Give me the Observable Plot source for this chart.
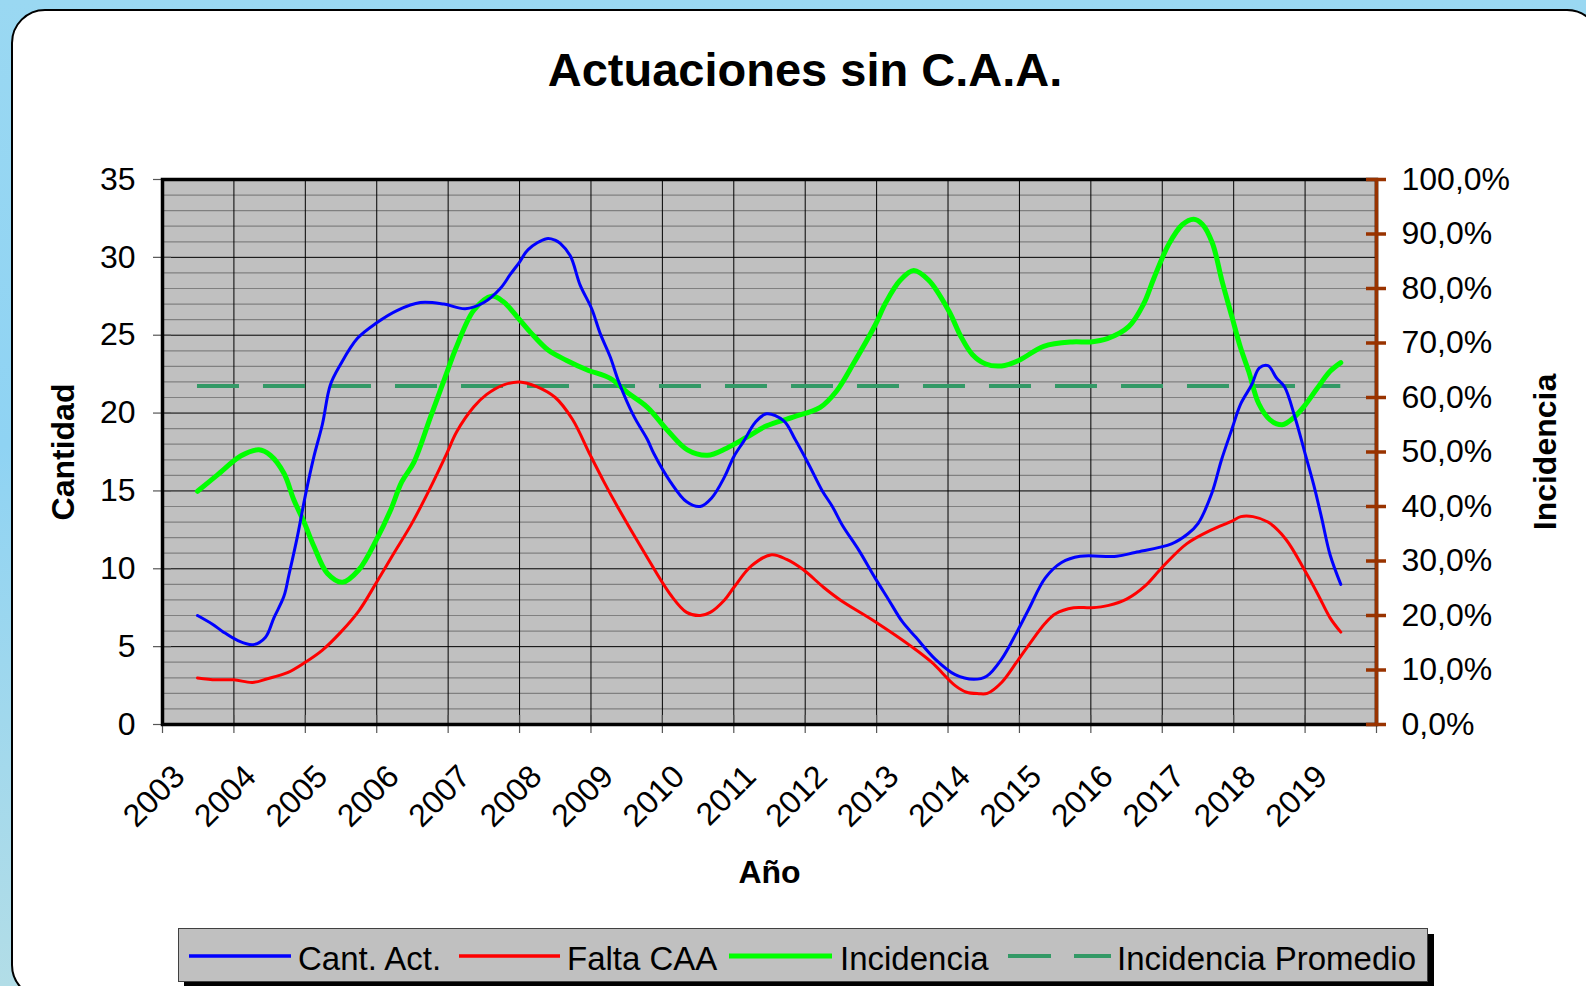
<!DOCTYPE html>
<html><head><meta charset="utf-8">
<script src="https://cdn.jsdelivr.net/npm/d3@7"></script>
<script src="https://cdn.jsdelivr.net/npm/@observablehq/plot@0.6"></script>
<style>
html,body{margin:0;padding:0;}
body{width:1586px;height:986px;overflow:hidden;position:relative;background:linear-gradient(180deg,#9ad8f2 0%,#8fd3f3 45%,#b2dde7 100%);font-family:"Liberation Sans",Arial,sans-serif;}
#panel{position:absolute;left:11px;top:9px;width:1590px;height:990px;background:#fff;border:2px solid #000;border-radius:34px;box-sizing:border-box;}
#title{position:absolute;left:805px;top:46px;transform:translateX(-50%);font-weight:bold;font-size:47px;line-height:47px;white-space:nowrap;color:#000;}
#chart{position:absolute;left:0;top:110px;}
#legend{position:absolute;left:178px;top:928px;width:1250px;height:54px;background:#c0c0c0;border:1px solid #404040;box-sizing:border-box;box-shadow:6px 6px 0 #000;}
#legend .s{position:absolute;}
#legend .t{position:absolute;top:4px;font-size:33px;line-height:52px;white-space:nowrap;color:#000;}
</style></head>
<body>
<div id="panel"></div>
<div id="title">Actuaciones sin C.A.A.</div>
<div id="chart"></div>
<div id="legend"></div>
<script>
// ---- data ----
const cantYears = [2003.49,2003.70,2003.84,2004.05,2004.27,2004.44,2004.56,2004.70,2004.77,2004.89,2005.0,2005.12,2005.24,2005.35,2005.49,2005.73,2006.0,2006.29,2006.61,2006.94,2007.24,2007.5,2007.73,2007.87,2008.0,2008.12,2008.38,2008.5,2008.57,2008.71,2008.85,2009.01,2009.13,2009.27,2009.39,2009.6,2009.79,2009.88,2010.11,2010.34,2010.53,2010.69,2010.87,2011.0,2011.14,2011.3,2011.46,2011.7,2011.86,2012.05,2012.24,2012.38,2012.52,2012.75,2012.98,2013.17,2013.36,2013.55,2013.82,2014.1,2014.36,2014.54,2014.75,2014.96,2015.13,2015.36,2015.59,2015.85,2016.36,2016.62,2017.13,2017.36,2017.5,2017.69,2017.83,2017.97,2018.1,2018.25,2018.36,2018.48,2018.6,2018.71,2018.86,2019.0,2019.12,2019.23,2019.35,2019.5];
const cantValues = [7.0,6.44,5.98,5.4,5.13,5.59,6.85,8.23,9.6,12.1,14.7,17.2,19.3,21.8,23.1,24.8,25.8,26.6,27.1,27.0,26.7,27.1,28.0,28.9,29.7,30.5,31.2,31.1,30.9,30.1,28.2,26.7,25.1,23.6,22.0,19.8,18.3,17.4,15.6,14.3,14.0,14.55,15.9,17.2,18.2,19.4,19.95,19.5,18.3,16.7,15.0,14.0,12.8,11.2,9.4,8.0,6.6,5.6,4.2,3.2,2.9,3.1,4.2,5.9,7.4,9.4,10.4,10.8,10.8,11.05,11.6,12.25,12.9,14.8,17.0,18.9,20.6,21.8,22.9,23.05,22.25,21.7,19.7,17.4,15.4,13.3,10.9,9.0];

const faltaYears = [2003.49,2003.75,2004.0,2004.26,2004.47,2004.75,2005.0,2005.24,2005.49,2005.75,2006.0,2006.24,2006.49,2006.75,2006.98,2007.12,2007.36,2007.54,2007.77,2008.0,2008.24,2008.5,2008.74,2008.99,2009.18,2009.37,2009.74,2010.12,2010.34,2010.53,2010.67,2010.87,2011.0,2011.25,2011.53,2011.74,2011.97,2012.26,2012.49,2012.98,2013.49,2013.77,2014.1,2014.26,2014.43,2014.55,2014.75,2014.96,2015.13,2015.36,2015.5,2015.76,2016.01,2016.25,2016.5,2016.76,2017.0,2017.34,2017.69,2017.97,2018.1,2018.27,2018.48,2018.73,2019.0,2019.18,2019.35,2019.5];
const faltaValues = [2.99,2.87,2.87,2.7,2.94,3.33,4.0,4.78,5.9,7.3,9.15,11.0,12.9,15.2,17.4,18.8,20.4,21.2,21.8,22.0,21.7,21.0,19.6,17.3,15.6,14.0,11.1,8.3,7.2,7.0,7.2,8.0,8.8,10.2,10.9,10.6,9.95,8.8,8.0,6.6,5.0,4.0,2.5,2.07,1.98,2.0,2.7,4.0,5.1,6.5,7.1,7.5,7.5,7.65,8.05,8.9,10.1,11.6,12.5,13.05,13.35,13.35,13.0,11.9,9.85,8.35,6.85,5.93];

const incYears = [2003.49,2003.77,2004.1,2004.35,2004.51,2004.7,2004.84,2004.98,2005.12,2005.31,2005.52,2005.75,2006.0,2006.19,2006.35,2006.52,2006.75,2006.98,2007.12,2007.36,2007.61,2007.77,2007.96,2008.15,2008.4,2008.66,2008.94,2009.27,2009.51,2009.79,2010.07,2010.35,2010.63,2010.9,2011.18,2011.46,2011.83,2012.21,2012.44,2012.67,2012.98,2013.12,2013.33,2013.52,2013.73,2014.01,2014.18,2014.34,2014.52,2014.75,2014.99,2015.34,2015.74,2016.0,2016.23,2016.53,2016.74,2016.88,2017.09,2017.28,2017.44,2017.56,2017.7,2017.84,2017.98,2018.09,2018.21,2018.35,2018.51,2018.68,2018.84,2019.0,2019.16,2019.35,2019.5];
const incValues = [42.8,45.8,49.3,50.4,49.4,46.1,41.2,37.2,32.7,27.7,26.1,28.4,34.0,39.2,44.5,48.1,56.3,64.5,69.4,76.0,78.6,77.6,74.9,72.0,68.7,66.8,65.1,63.5,60.9,58.2,54.0,50.4,49.4,50.7,52.7,54.8,56.4,58.2,61.2,66.1,73.3,77.2,81.5,83.3,81.5,75.9,71.2,67.9,66.2,65.8,66.8,69.4,70.2,70.2,70.8,73.0,77.2,81.8,88.1,91.7,92.7,91.8,88.4,81.2,74.6,69.4,64.8,58.9,55.9,55.0,56.3,58.6,61.5,64.8,66.4];

const incPromedio = 62.1;           // %
const promedioRange = [2003.49, 2019.5];

const yearTicks = d3.range(2003, 2021);           // 2003..2020 (grid)
const yearLabels = d3.range(2003, 2020);          // 2003..2019
const cantTicks = [0,5,10,15,20,25,30,35];
const cantMinor = d3.range(0, 36, 1);
const incTicks = [0,10,20,30,40,50,60,70,80,90,100];

const seriesNames = ["Cant. Act.", "Falta CAA", "Incidencia", "Incidencia Promedio"];
const seriesColors = ["#0000ff", "#ff0000", "#00ff00", "#339966"];

// ---- build ----
const ratio = 35 / 100;   // % -> left scale
const toRows = (xs, ys) => xs.map((x, i) => ({x, y: ys[i]}));
const cant = toRows(cantYears, cantValues);
const falta = toRows(faltaYears, faltaValues);
const inc = toRows(incYears, incValues);

const frameW = 1586 - 162 - 210;
const frameH = 790 - 69 - 176;
const fmtPct = p => p.toFixed(1).replace(".", ",") + "%";

const chart = Plot.plot({
  width: 1586, height: 790,
  marginLeft: 162, marginRight: 210, marginTop: 69, marginBottom: 176,
  x: {domain: [2003, 2020], axis: null},
  y: {domain: [0, 35], axis: null},
  style: {background: "transparent", fontFamily: "'Liberation Sans', Arial, sans-serif", fontSize: "32px", color: "#000"},
  marks: [
    Plot.frame({fill: "#c0c0c0", stroke: "none"}),
    Plot.ruleY(cantMinor.filter(v => v % 5 !== 0), {y: d => d, stroke: "#808080", strokeWidth: 1.2}),
    Plot.ruleY(cantTicks, {y: d => d, stroke: "#000", strokeWidth: 1}),
    Plot.ruleX(yearTicks, {x: d => d, stroke: "#000", strokeWidth: 1}),
    // axis ticks
    Plot.tickY(cantTicks, {y: d => d, insetLeft: -9, insetRight: frameW - 9, stroke: "#555", strokeWidth: 1.2}),
    Plot.tickX(yearTicks, {x: d => d, insetTop: frameH - 9, insetBottom: -9, stroke: "#555", strokeWidth: 1.2}),
    // series
    Plot.ruleY([incPromedio * ratio], {y: d => d, x1: () => promedioRange[0], x2: () => promedioRange[1], stroke: seriesColors[3], strokeWidth: 4, strokeDasharray: "42 24"}),
    Plot.line(falta, {x: "x", y: "y", stroke: seriesColors[1], strokeWidth: 3, curve: "catmull-rom", strokeLinejoin: "round", strokeLinecap: "round"}),
    Plot.line(inc, {x: "x", y: d => d.y * ratio, stroke: seriesColors[2], strokeWidth: 5, curve: "catmull-rom", strokeLinejoin: "round", strokeLinecap: "round"}),
    Plot.line(cant, {x: "x", y: "y", stroke: seriesColors[0], strokeWidth: 3, curve: "catmull-rom", strokeLinejoin: "round", strokeLinecap: "round"}),
    // frame border
    Plot.frame({stroke: "#000", strokeWidth: 3.5}),
    // right axis (Incidencia)
    Plot.ruleX([2020], {x: d => d, stroke: "#993300", strokeWidth: 3.5}),
    Plot.tickY(incTicks, {y: d => d * ratio, insetLeft: frameW - 10, insetRight: -10, stroke: "#993300", strokeWidth: 3.5}),
    Plot.text(incTicks, {y: d => d * ratio, text: d => fmtPct(d), frameAnchor: "right", dx: 25, textAnchor: "start", fontSize: 32, fill: "#000"}),
    // left axis labels
    Plot.text(cantTicks, {y: d => d, text: d => String(d), frameAnchor: "left", dx: -27, textAnchor: "end", fontSize: 32, fill: "#000"}),
    // x labels
    Plot.text(yearLabels, {x: d => d, text: d => String(d), frameAnchor: "bottom", dx: 24, dy: 54, rotate: -45, textAnchor: "end", fontSize: 32, fill: "#000"}),
    // axis titles
    Plot.text(["Cantidad"], {text: d => d, frameAnchor: "left", dx: -99, rotate: -90, textAnchor: "middle", fontSize: 32, fontWeight: "bold", fill: "#000"}),
    Plot.text(["Incidencia"], {text: d => d, frameAnchor: "right", dx: 169, rotate: -90, textAnchor: "middle", fontSize: 32, fontWeight: "bold", fill: "#000"}),
    Plot.text(["Año"], {text: d => d, frameAnchor: "bottom", dy: 158, fontSize: 32, fontWeight: "bold", fill: "#000"})
  ]
});
document.getElementById("chart").appendChild(chart);

// ---- legend ----
const legend = document.getElementById("legend");
const legendLayout = [
  {x1: 10, x2: 112, tx: 119, w: 3.3, dash: null},
  {x1: 280, x2: 381, tx: 388, w: 3.3, dash: null},
  {x1: 550, x2: 653, tx: 661, w: 5, dash: null},
  {x1: 829, x2: 932, tx: 938, w: 4, dash: [43, 23]}
];
seriesNames.forEach((name, i) => {
  const L = legendLayout[i];
  const svgNS = "http://www.w3.org/2000/svg";
  const s = document.createElementNS(svgNS, "svg");
  s.setAttribute("class", "s");
  s.setAttribute("width", L.x2 - L.x1);
  s.setAttribute("height", 10);
  s.style.left = L.x1 + "px";
  s.style.top = "22px";
  const ln = document.createElementNS(svgNS, "line");
  ln.setAttribute("x1", 0); ln.setAttribute("x2", L.x2 - L.x1);
  ln.setAttribute("y1", 5); ln.setAttribute("y2", 5);
  ln.setAttribute("stroke", seriesColors[i]);
  ln.setAttribute("stroke-width", L.w);
  if (L.dash) ln.setAttribute("stroke-dasharray", L.dash.join(" "));
  else ln.setAttribute("stroke-linecap", "round");
  s.appendChild(ln);
  legend.appendChild(s);
  const t = document.createElement("div");
  t.className = "t";
  t.style.left = L.tx + "px";
  t.textContent = name;
  legend.appendChild(t);
});
</script>
</body></html>
